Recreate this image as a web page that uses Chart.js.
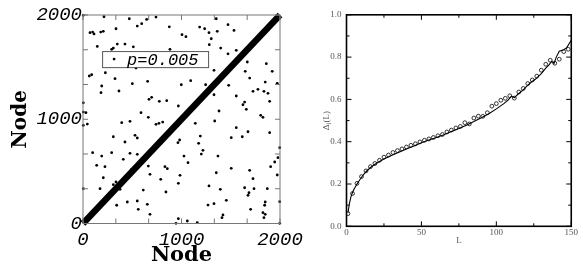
<!DOCTYPE html>
<html>
<head>
<meta charset="utf-8">
<script src="https://cdn.jsdelivr.net/npm/chart.js@4.4.0/dist/chart.umd.min.js"></script>
<style>
  html, body { margin: 0; padding: 0; background: #fff; }
  #wrap { position: relative; width: 579px; height: 271px; overflow: hidden; }
  #left { position: absolute; left: 0; top: 0; }
  #right { position: absolute; left: 300px; top: 0; }
</style>
</head>
<body>
<div id="wrap">
  <canvas id="left" width="310" height="271"></canvas>
  <canvas id="right" width="279" height="271"></canvas>
</div>
<script>
// left panel: links of the network (node i - node j), p = 0.005
const nodeI = [
  3, 213, 470, 551, 596, 646, 741, 876, 71, 98, 112, 180, 206, 335, 145, 291, 308, 348, 426, 511,
  538, 883, 227, 64, 88, 325, 501, 656, 190, 183, 365, 670, 697, 775, 850, 968, 3, 3, 30, 589, 663,
  1005, 1045, 1353, 1472, 1184, 1235, 1279, 1363, 1533, 1302, 1282, 1398, 1472, 1556, 1668, 1861,
  1647, 1921, 1692, 1850, 1972, 1330, 1093, 998, 1245, 1479, 1776, 1726, 1837, 1878, 1330, 1556,
  1895, 1641, 1624, 1658, 1381, 1804, 1827,
  3, 44, 393, 477, 741, 771, 809, 308, 528, 551, 426, 98, 190, 291, 409, 477, 551, 139, 223, 494,
  663, 832, 856, 680, 206, 789, 985, 968, 308, 335, 173, 376, 612, 842, 3, 342, 450, 551, 653, 561,
  680, 968, 944,
  1140, 1337, 1556, 1675, 1895, 1505, 1617, 1191, 981, 964, 1174, 1218, 1201, 1025, 1066, 1370,
  1979, 1946, 1905, 1505, 1692, 1353, 1972, 1726, 1279, 1394, 1641, 1736, 1871, 1685, 1675, 1455,
  1269, 1330, 1850, 1844, 1702, 1997, 1421, 1411, 1827, 1850, 1837, 1059, 1160, 1997, 1997
];
const nodeJ = [
  1997, 1983, 1964, 1894, 1917, 1958, 1980, 1887, 1830, 1836, 1818, 1836, 1843, 1868, 1699, 1671,
  1683, 1721, 1721, 1695, 1491, 1671, 1446, 1415, 1427, 1389, 1341, 1364, 1319, 1255, 1271, 1191,
  1210, 1172, 1178, 1127, 1158, 1069, 1063, 1063, 1018,
  1811, 1792, 1964, 1907, 1884, 1868, 1830, 1843, 1852, 1772, 1715, 1683, 1628, 1661, 1549, 1533,
  1460, 1460, 1395, 1357, 1345, 1469, 1370, 1331, 1331, 1325, 1287, 1268, 1268, 1249, 1235, 1223,
  1172, 1165, 1139, 1095, 1079, 1038, 1018,
  942, 954, 967, 980, 951, 961, 973, 832, 846, 820, 782, 679, 647, 679, 616, 673, 664, 558, 545, 520,
  551, 545, 526, 472, 439, 424, 462, 385, 372, 398, 334, 328, 321, 302, 334, 175, 206, 216, 184, 136,
  88, 46, 2,
  961, 983, 919, 880, 871, 823, 832, 839, 801, 775, 769, 702, 666, 647, 583, 647,
  631, 590, 545, 529, 510, 487, 465, 430, 360, 328, 343, 334, 334, 295, 270, 222,
  177, 190, 206, 175, 136, 209, 82, 56, 104, 88, 56, 24, 8, 2, 727
];
const diagNodes = [0, 2000];
const nodeTicks = [0, 1000, 2000];
const nodeMinorTicks = [0, 333.33, 666.67, 1000, 1333.33, 1666.67, 2000];

// right panel: Delta_J(L)
const circleL = [
  1, 4, 7, 10, 13, 16, 19, 22, 25, 28, 31, 34, 37, 40, 43, 46, 49, 52, 55, 58, 61, 64, 67, 70, 73,
  76, 79, 82, 85, 88, 91, 94, 97, 100, 103, 106, 109, 112, 115, 118, 121, 124, 127, 130, 133, 136,
  139, 142, 145, 148
];
const circleDelta = [
  0.060, 0.155, 0.203, 0.235, 0.262, 0.282, 0.297, 0.312, 0.327, 0.337, 0.349, 0.358, 0.366, 0.375,
  0.383, 0.390, 0.399, 0.407, 0.413, 0.420, 0.428, 0.434, 0.446, 0.455, 0.465, 0.472, 0.490, 0.484,
  0.512, 0.521, 0.520, 0.537, 0.568, 0.580, 0.596, 0.605, 0.617, 0.606, 0.635, 0.652, 0.675, 0.692,
  0.710, 0.738, 0.766, 0.785, 0.771, 0.790, 0.826, 0.837
];
const curveL = [
  1, 2, 3, 4, 5, 7, 10, 13, 16, 20, 25, 30, 35, 40, 45, 50, 55, 60, 65, 70, 75, 80, 85, 90, 95, 100,
  105, 108, 110, 112, 115, 118, 120, 123, 126, 130, 133, 135, 137, 138.5, 140, 142, 145, 147, 150
];
const curveDelta = [
  0.065, 0.110, 0.140, 0.160, 0.175, 0.200, 0.232, 0.258, 0.278, 0.298, 0.318, 0.335, 0.350, 0.365,
  0.380, 0.395, 0.408, 0.420, 0.433, 0.448, 0.462, 0.478, 0.495, 0.513, 0.532, 0.555, 0.580, 0.598,
  0.615, 0.608, 0.628, 0.645, 0.660, 0.680, 0.695, 0.722, 0.748, 0.762, 0.780, 0.770, 0.800, 0.828,
  0.835, 0.845, 0.880
];
const lTicks = [0, 50, 100, 150];
const lMinorTicks = [0, 25, 50, 75, 100, 125, 150];
const deltaTicks = [0, 0.2, 0.4, 0.6, 0.8, 1.0];
const deltaMinorTicks = [0, 0.1, 0.2, 0.3, 0.4, 0.5, 0.6, 0.7, 0.8, 0.9, 1.0];

// рамка и засечки внутрь по всем четырём сторонам
const framePlugin = {
  id: 'frame',
  afterDatasetsDraw(chart, args, o) {
    const { ctx, chartArea: a, scales: { x, y } } = chart;
    ctx.save();
    ctx.strokeStyle = o.color;
    ctx.lineWidth = o.tickWidth;
    ctx.beginPath();
    o.xMinor.forEach(v => {
      const px = x.getPixelForValue(v);
      const len = o.xMajor.includes(v) ? o.major : o.minor;
      ctx.moveTo(px, a.bottom); ctx.lineTo(px, a.bottom - len);
      ctx.moveTo(px, a.top); ctx.lineTo(px, a.top + len);
    });
    o.yMinor.forEach(v => {
      const py = y.getPixelForValue(v);
      const len = o.yMajor.includes(v) ? o.major : o.minor;
      ctx.moveTo(a.left, py); ctx.lineTo(a.left + len, py);
      ctx.moveTo(a.right, py); ctx.lineTo(a.right - len, py);
    });
    ctx.stroke();
    ctx.lineWidth = o.frameWidth;
    ctx.strokeRect(a.left, a.top, a.right - a.left, a.bottom - a.top);
    ctx.restore();
  }
};

// легенда в рамке внутри графика
const boxLegend = {
  id: 'boxLegend',
  afterDraw(chart, args, o) {
    const { ctx, chartArea: a } = chart;
    const w = a.right - a.left, h = a.bottom - a.top;
    const bx = a.left + w * o.left, by = a.top + h * o.top;
    const bw = w * o.width, bh = h * o.height;
    ctx.save();
    ctx.fillStyle = '#fff';
    ctx.fillRect(bx, by, bw, bh);
    ctx.strokeStyle = '#555';
    ctx.lineWidth = 1;
    ctx.strokeRect(bx + 0.5, by + 0.5, bw, bh);
    ctx.fillStyle = '#000';
    ctx.beginPath();
    ctx.arc(bx + 12, by + bh / 2, 1.4, 0, Math.PI * 2);
    ctx.fill();
    ctx.font = 'italic 17px "Liberation Mono"';
    ctx.textBaseline = 'middle';
    ctx.fillText(chart.data.datasets[0].label, bx + 25, by + bh / 2 + 1);
    ctx.restore();
  }
};

const monoItalic = { family: 'Liberation Mono', size: 19, style: 'italic' };
const serifBold = size => ({ family: 'DejaVu Serif', size: size, weight: 'bold' });
const serif = { family: 'Liberation Serif', size: 9 };

new Chart(document.getElementById('left'), {
  type: 'scatter',
  data: {
    datasets: [{
      label: 'p=0.005',
      data: nodeI.map((v, i) => ({ x: v, y: nodeJ[i] })),
      pointRadius: 1.4,
      pointBackgroundColor: '#000',
      pointBorderWidth: 0,
      clip: 4
    }, {
      label: 'ring',
      data: diagNodes.map(v => ({ x: v, y: v })),
      showLine: true,
      borderColor: '#000',
      borderWidth: 6.5,
      pointRadius: 0,
      clip: 4
    }]
  },
  options: {
    responsive: false,
    animation: false,
    layout: { padding: { top: 15, right: 30, left: 0, bottom: 0 } },
    plugins: {
      legend: { display: false },
      tooltip: { enabled: false },
      frame: {
        color: '#777', tickWidth: 1, frameWidth: 1, major: 5, minor: 5,
        xMajor: nodeTicks, xMinor: nodeMinorTicks, yMajor: nodeTicks, yMinor: nodeMinorTicks
      },
      boxLegend: { left: 0.097, top: 0.173, width: 0.538, height: 0.077 }
    },
    scales: {
      x: {
        type: 'linear', min: 0, max: 2000,
        afterBuildTicks: s => { s.ticks = nodeTicks.map(v => ({ value: v })); },
        afterFit: s => { s.height = 47.5; },
        grid: { display: false, drawTicks: false },
        border: { display: false },
        ticks: { font: monoItalic, color: '#000', padding: 5, maxRotation: 0, autoSkip: false, callback: v => String(v) },
        title: { display: true, text: 'Node', font: serifBold(21), color: '#000', padding: { top: 0, bottom: 3 } }
      },
      y: {
        type: 'linear', min: 0, max: 2000,
        afterBuildTicks: s => { s.ticks = nodeTicks.map(v => ({ value: v })); },
        afterFit: s => { s.width = 83; },
        grid: { display: false, drawTicks: false },
        border: { display: false },
        ticks: { font: monoItalic, color: '#000', padding: 1, autoSkip: false, callback: v => String(v) },
        title: { display: true, text: 'Node', font: serifBold(20), color: '#000', padding: { top: 9, bottom: 0 } }
      }
    }
  },
  plugins: [framePlugin, boxLegend]
});

new Chart(document.getElementById('right'), {
  type: 'scatter',
  data: {
    datasets: [{
      label: 'curve',
      data: curveL.map((v, i) => ({ x: v, y: curveDelta[i] })),
      showLine: true,
      borderColor: '#000',
      borderWidth: 1.1,
      pointRadius: 0,
      tension: 0
    }, {
      label: 'data',
      data: circleL.map((v, i) => ({ x: v, y: circleDelta[i] })),
      pointRadius: 1.9,
      pointBorderWidth: 0.8,
      pointBorderColor: '#000',
      pointBackgroundColor: 'rgba(0,0,0,0)'
    }]
  },
  options: {
    responsive: false,
    animation: false,
    layout: { padding: { top: 14.8, right: 5.7, left: 0, bottom: 0 } },
    plugins: {
      legend: { display: false },
      tooltip: { enabled: false },
      frame: {
        color: '#000', tickWidth: 1, frameWidth: 1.6, major: 5, minor: 3,
        xMajor: lTicks, xMinor: lMinorTicks, yMajor: deltaTicks, yMinor: deltaMinorTicks
      }
    },
    scales: {
      x: {
        type: 'linear', min: 0, max: 150,
        afterBuildTicks: s => { s.ticks = lTicks.map(v => ({ value: v })); },
        afterFit: s => { s.height = 44.7; },
        grid: { display: false, drawTicks: false },
        border: { display: false },
        ticks: { font: serif, color: '#555', padding: 1, maxRotation: 0, autoSkip: false },
        title: { display: true, text: 'L', font: serif, color: '#555', padding: { top: 0, bottom: 25 } }
      },
      y: {
        type: 'linear', min: 0, max: 1,
        afterBuildTicks: s => { s.ticks = deltaTicks.map(v => ({ value: v })); },
        afterFit: s => { s.width = 46.5; },
        grid: { display: false, drawTicks: false },
        border: { display: false },
        ticks: { font: serif, color: '#555', padding: 5, autoSkip: false, callback: v => v.toFixed(1) },
        title: { display: true, text: 'Δ\u2C7C(L)', font: serif, color: '#555', padding: { top: 21, bottom: 0 } }
      }
    }
  },
  plugins: [framePlugin]
});
</script>
</body>
</html>
